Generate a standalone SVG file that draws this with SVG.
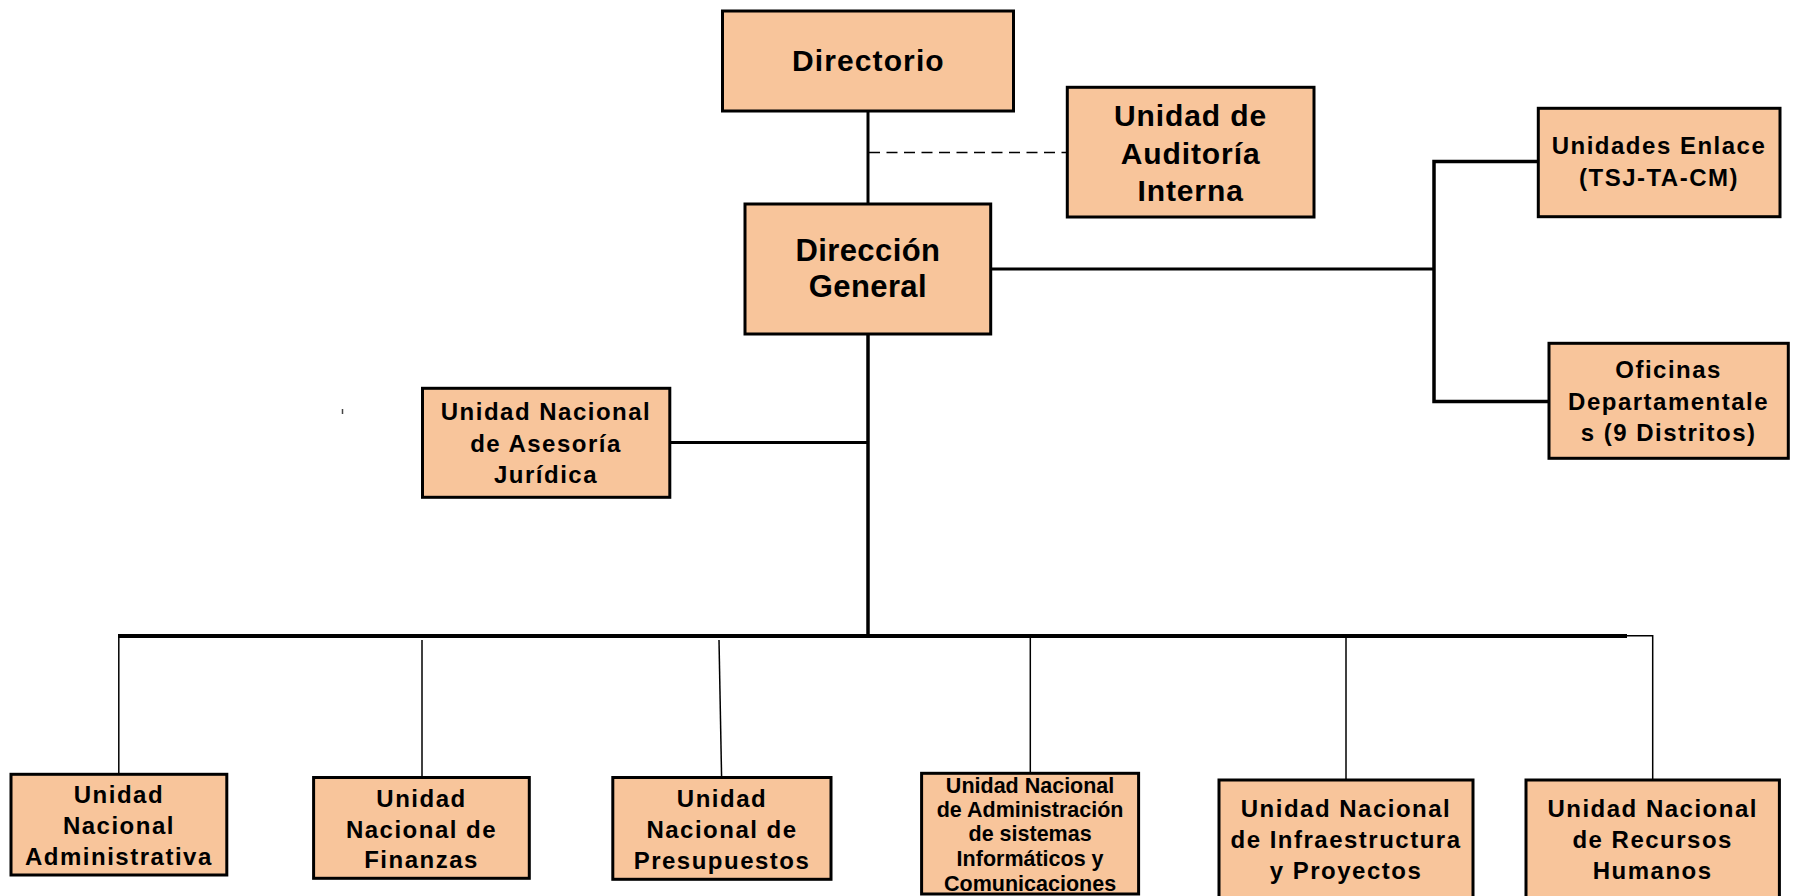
<svg xmlns="http://www.w3.org/2000/svg" width="1793" height="896" viewBox="0 0 1793 896">
<style>
.box{fill:#F8C59B;stroke:#000;stroke-width:3}
.t{font-family:"Liberation Sans",Arial,sans-serif;font-weight:bold;fill:#000;text-anchor:middle}
.t24{font-size:24px;letter-spacing:1.5px}
.t21{font-size:21.5px}
.t28{font-size:30px;letter-spacing:0.9px}
.t31{font-size:31px;letter-spacing:0.4px}
.thick{stroke:#000;stroke-width:3.5;fill:none}
.med{stroke:#000;stroke-width:3;fill:none}
.thin{stroke:#000;stroke-width:1.5;fill:none}
.dash{stroke:#000;stroke-width:1.5;fill:none;stroke-dasharray:11 6.5}
</style>
<rect width="1793" height="896" fill="#fff"/>
<g id="connectors">
<line class="med" x1="868" y1="111" x2="868" y2="204"/>
<line class="dash" x1="869" y1="152.5" x2="1067" y2="152.5"/>
<line class="med" x1="990" y1="269" x2="1434" y2="269"/>
<polyline class="thick" points="1538,161.5 1434,161.5 1434,401.5 1549,401.5"/>
<line class="thick" x1="868" y1="334" x2="868" y2="637"/>
<line class="med" x1="670" y1="442.5" x2="868" y2="442.5"/>
<line stroke="#000" stroke-width="4" x1="118" y1="636" x2="1627" y2="636"/>
<polyline class="thin" points="1627,635.7 1652.7,635.7 1652.7,780"/>
<line class="thin" x1="118.8" y1="636" x2="118.8" y2="774"/>
<line class="thin" x1="422" y1="640" x2="422" y2="778"/>
<line class="thin" x1="719" y1="640" x2="721.6" y2="778"/>
<line class="thin" x1="1030.3" y1="636" x2="1030.3" y2="773"/>
<line class="thin" x1="1346" y1="636" x2="1346" y2="780"/>
<line stroke="#444" stroke-width="1.5" x1="342.5" y1="409" x2="342.5" y2="414"/>
</g>
<g id="directorio">
<rect class="box" x="722.5" y="11" width="291" height="100"/>
<text class="t" x="868.4" y="70.7" style="font-size:30px;letter-spacing:1.1px">Directorio</text>
</g>
<g id="auditoria">
<rect class="box" x="1067.3" y="87.3" width="246.7" height="129.7"/>
<text class="t t28" x="1190.6" y="126">Unidad de</text>
<text class="t t28" x="1190.6" y="163.5">Auditoría</text>
<text class="t t28" x="1190.6" y="201">Interna</text>
</g>
<g id="direccion-general">
<rect class="box" x="745" y="204" width="245.7" height="130"/>
<text class="t t31" x="867.9" y="261">Dirección</text>
<text class="t t31" x="867.9" y="297">General</text>
</g>
<g id="unidades-enlace">
<rect class="box" x="1538.3" y="108.3" width="241.7" height="108.4"/>
<text class="t t24" x="1659" y="154.3">Unidades Enlace</text>
<text class="t t24" x="1659" y="186">(TSJ-TA-CM)</text>
</g>
<g id="oficinas">
<rect class="box" x="1549" y="343.3" width="239.3" height="115"/>
<text class="t t24" x="1668.6" y="378.3">Oficinas</text>
<text class="t t24" x="1668.6" y="410">Departamentale</text>
<text class="t t24" x="1668.6" y="440.7">s (9 Distritos)</text>
</g>
<g id="asesoria">
<rect class="box" x="422.5" y="388.3" width="247.3" height="109"/>
<text class="t t24" x="546" y="420">Unidad Nacional</text>
<text class="t t24" x="546" y="451.7">de Asesoría</text>
<text class="t t24" x="546" y="482.7">Jurídica</text>
</g>
<g id="administrativa">
<rect class="box" x="11" y="774.3" width="215.8" height="100.7"/>
<text class="t t24" x="118.9" y="803">Unidad</text>
<text class="t t24" x="118.9" y="834">Nacional</text>
<text class="t t24" x="118.9" y="865">Administrativa</text>
</g>
<g id="finanzas">
<rect class="box" x="313.6" y="777.5" width="215.7" height="100.8"/>
<text class="t t24" x="421.5" y="806.7">Unidad</text>
<text class="t t24" x="421.5" y="838.3">Nacional de</text>
<text class="t t24" x="421.5" y="868.3">Finanzas</text>
</g>
<g id="presupuestos">
<rect class="box" x="612.8" y="777.5" width="218.2" height="101.8"/>
<text class="t t24" x="722" y="806.7">Unidad</text>
<text class="t t24" x="722" y="838.3">Nacional de</text>
<text class="t t24" x="722" y="869.3">Presupuestos</text>
</g>
<g id="sistemas">
<rect class="box" x="921.6" y="773.3" width="217" height="120.7"/>
<text class="t t21" x="1030.1" y="793.3">Unidad Nacional</text>
<text class="t t21" x="1030.1" y="816.7">de Administración</text>
<text class="t t21" x="1030.1" y="841">de sistemas</text>
<text class="t t21" x="1030.1" y="866">Informáticos y</text>
<text class="t t21" x="1030.1" y="890.7">Comunicaciones</text>
</g>
<g id="infraestructura">
<rect class="box" x="1219" y="780" width="254" height="125"/>
<text class="t t24" x="1346" y="816.7">Unidad Nacional</text>
<text class="t t24" x="1346" y="848.3">de Infraestructura</text>
<text class="t t24" x="1346" y="879.3">y Proyectos</text>
</g>
<g id="recursos-humanos">
<rect class="box" x="1526" y="780" width="253.4" height="125"/>
<text class="t t24" x="1652.7" y="816.7">Unidad Nacional</text>
<text class="t t24" x="1652.7" y="848.3">de Recursos</text>
<text class="t t24" x="1652.7" y="879.3">Humanos</text>
</g>
</svg>
